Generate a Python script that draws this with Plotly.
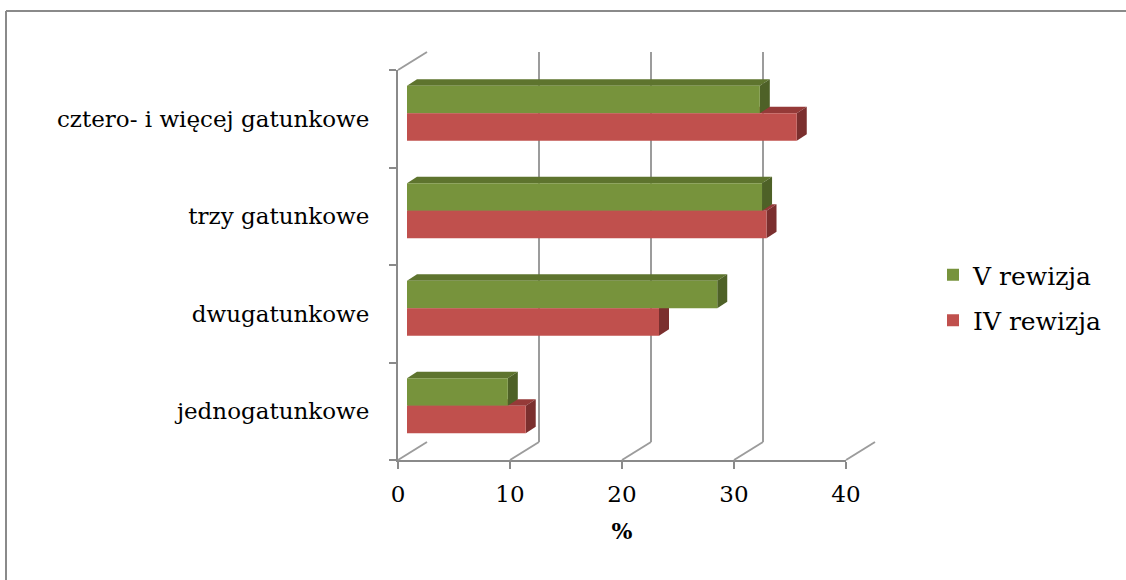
import plotly.graph_objects as go

# ---- data ----
categories = ["jednogatunkowe", "dwugatunkowe", "trzy gatunkowe", "cztero- i więcej gatunkowe"]
v_rewizja = [9.0, 27.7, 31.7, 31.5]
iv_rewizja = [10.6, 22.5, 32.1, 34.8]
x_ticks = [0, 10, 20, 30, 40]
x_max = 40

# ---- geometry (pixels) ----
W, H = 1126, 580
FL, FR, FT, FB = 398, 846, 70, 460          # front plane
BDX, BDY = 29, -18                           # back wall offset
PDX, PDY = 9, -5.6                           # bar plane offset
DDX, DDY = 10, 6.3                           # bar depth (px)
BW = 0.282                                   # bar thickness (category units)

FONT = "DejaVu Serif"
GRAY = "#8a8a8a"

def fx(px):
    return px / W

def fy(py):
    return 1 - py / H

green, green_top, green_side = "#77933C", "#5E742E", "#4E6127"
red, red_top, red_side = "#C0504D", "#953A38", "#7B2F2E"

fig = go.Figure()

# invisible traces to register front and back axes
fig.add_trace(go.Scatter(x=v_rewizja, y=categories, mode="markers", marker=dict(opacity=0),
                         showlegend=False, hoverinfo="skip", xaxis="x", yaxis="y"))
fig.add_trace(go.Scatter(x=v_rewizja, y=[0.5] * len(v_rewizja), mode="markers", marker=dict(opacity=0),
                         showlegend=False, hoverinfo="skip", xaxis="x2", yaxis="y2"))

fig.add_trace(go.Bar(name="V rewizja", y=categories, x=v_rewizja, orientation="h",
                     width=BW, offset=0, marker=dict(color=green, line=dict(width=0)),
                     legendgroup="v", xaxis="x3", yaxis="y3"))
fig.add_trace(go.Bar(name="IV rewizja", y=categories, x=iv_rewizja, orientation="h",
                     width=BW, offset=-BW, marker=dict(color=red, line=dict(width=0)),
                     legendgroup="iv", xaxis="x3", yaxis="y3"))

# 3D faces of bars, computed from the values in bar-plane units
ux = x_max / (FR - FL)      # data units per px
uy = 4 / (FB - FT)          # category units per px
dx, dy = DDX * ux, DDY * uy

shapes = []
for series, off, ctop, cside in [(iv_rewizja, -BW, red_top, red_side), (v_rewizja, 0, green_top, green_side)]:
    for i, v in enumerate(series):
        yb = i + off
        yt = yb + BW
        top = f"M 0,{yt} L {v},{yt} L {v+dx},{yt+dy} L {dx},{yt+dy} Z"
        side = f"M {v},{yb} L {v},{yt} L {v+dx},{yt+dy} L {v+dx},{yb+dy} Z"
        shapes.append(dict(type="path", path=top, xref="x3", yref="y3", fillcolor=ctop,
                           line=dict(width=0), layer="below"))
        shapes.append(dict(type="path", path=side, xref="x3", yref="y3", fillcolor=cside,
                           line=dict(width=0), layer="below"))

# floor diagonals and top-left diagonal
for t in x_ticks:
    pxf = FL + t * (FR - FL) / x_max
    shapes.append(dict(type="line", xref="paper", yref="paper",
                       x0=fx(pxf), y0=fy(FB), x1=fx(pxf + BDX), y1=fy(FB + BDY),
                       line=dict(color="#9c9c9c", width=2)))
shapes.append(dict(type="line", xref="paper", yref="paper",
                   x0=fx(FL), y0=fy(FT), x1=fx(FL + BDX), y1=fy(FT + BDY),
                   line=dict(color="#9c9c9c", width=2)))

# outer border (top and left visible)
shapes.append(dict(type="line", xref="paper", yref="paper", x0=fx(6), y0=fy(11), x1=1.01, y1=fy(11),
                   line=dict(color=GRAY, width=2)))
shapes.append(dict(type="line", xref="paper", yref="paper", x0=fx(6), y0=fy(11), x1=fx(6), y1=-0.01,
                   line=dict(color=GRAY, width=2)))

fig.update_layout(
    width=W, height=H,
    margin=dict(l=0, r=0, t=0, b=0, autoexpand=False),
    paper_bgcolor="white",
    plot_bgcolor="rgba(0,0,0,0)",
    showlegend=True,
    legend=dict(x=fx(933), y=fy(252), xanchor="left", yanchor="top",
                traceorder="grouped", tracegroupgap=10,
                font=dict(family=FONT, size=25, color="black"),
                bgcolor="rgba(0,0,0,0)"),
    xaxis=dict(domain=[fx(FL), fx(FR)], range=[0, x_max], anchor="y",
               showline=True, linecolor=GRAY, linewidth=2,
               ticks="outside", ticklen=7, tickwidth=2, tickcolor=GRAY,
               tickvals=x_ticks, showgrid=False, zeroline=False,
               tickfont=dict(family=FONT, size=23, color="black"),
               ticklabelstandoff=5,
               title=dict(text="<b>%</b>", font=dict(family=FONT, size=22, color="black"), standoff=18)),
    yaxis=dict(domain=[fy(FB), fy(FT)], type="category", categoryorder="array", categoryarray=categories,
               range=[-0.5, 3.5], anchor="x",
               showline=True, linecolor=GRAY, linewidth=2,
               ticks="outside", tickson="boundaries", ticklen=7, tickwidth=2, tickcolor=GRAY,
               showgrid=False, zeroline=False,
               tickfont=dict(family=FONT, size=23, color="black"),
               ticklabelstandoff=22),
    xaxis2=dict(domain=[fx(FL + BDX), fx(FR + BDX)], range=[0, x_max], anchor="y2",
                showgrid=True, gridcolor="#9c9c9c", gridwidth=2, tickvals=x_ticks,
                showticklabels=False, ticks="", zeroline=False, showline=False),
    yaxis2=dict(domain=[fy(FB + BDY), fy(FT + BDY)], range=[0, 1], anchor="x2",
                showgrid=False, showticklabels=False, ticks="", zeroline=False, showline=False),
    xaxis3=dict(domain=[fx(FL + PDX), fx(FR + PDX)], range=[0, x_max], anchor="y3", visible=False),
    yaxis3=dict(domain=[fy(FB + PDY), fy(FT + PDY)], type="category", categoryorder="array",
                categoryarray=categories, range=[-0.5, 3.5], anchor="x3", visible=False),
    shapes=shapes,
)

fig.write_html("out.html", config={"displayModeBar": False},
               post_script="document.body.style.margin='0';document.body.style.overflow='hidden';")
